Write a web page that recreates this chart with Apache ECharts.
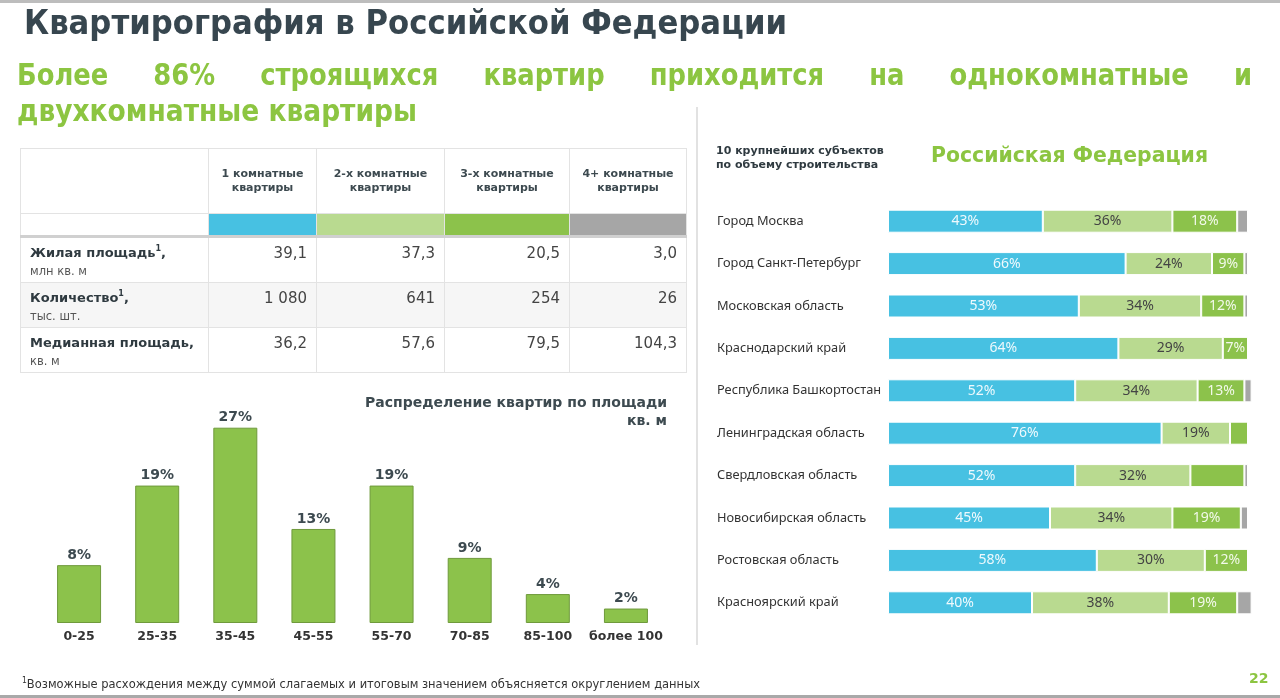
<!DOCTYPE html>
<html><head><meta charset="utf-8">
<script src="https://cdn.jsdelivr.net/npm/echarts@6/dist/echarts.min.js"></script>
<style>
html,body{margin:0;padding:0;width:1280px;height:698px;overflow:hidden;background:#fff;font-family:'DejaVu Sans',sans-serif;}
#chart{position:absolute;left:0;top:0;width:1280px;height:698px;}
.abs{position:absolute;white-space:nowrap;}
.fit{display:inline-block;transform-origin:0 0;}
#topline{position:absolute;left:0;top:0;width:1280px;height:3px;background:#bdbdbd;}
#botline{position:absolute;left:0;top:695px;width:1280px;height:3px;background:#a9a9a9;}
#vsep{position:absolute;left:696px;top:107px;width:2px;height:538px;background:#e2e2e2;}
#tbl{position:absolute;left:20px;top:148px;width:666px;border-collapse:collapse;table-layout:fixed;}
#tbl td{border:1px solid #e3e3e3;padding:0;}
#tbl .hd{font-weight:bold;font-size:11px;color:#3d4a50;text-align:center;vertical-align:middle;line-height:14px;height:64px;}
#tbl .strip td{height:21px;border-bottom:3px solid #d0d0d0;}
#tbl .lab{vertical-align:top;padding:5px 0 0 9px;height:39px;color:#2f3a40;line-height:17px;}
#tbl .lab b{font-size:13px;}
#tbl .lab sup{font-size:8px;line-height:0;vertical-align:6px;}
#tbl .lab span{font-size:11.5px;color:#555;}
#tbl .val{vertical-align:top;text-align:right;padding:6px 9px 0 0;font-size:15px;color:#444;}
</style></head>
<body>
<div id="chart"></div>
<div id="topline"></div>
<div id="botline"></div>
<div id="vsep"></div>
<div class="abs" style="left:24px;top:2px;"><span class="fit" data-w="763" style="font-size:34px;font-weight:bold;color:#37464f;">Квартирография в Российской Федерации</span></div>
<div class="abs" style="left:17px;top:57px;width:1235px;"><div id="sub1" style="font-size:30px;font-weight:bold;color:#8cc541;text-align:justify;text-align-last:justify;transform-origin:0 0;">Более 86% строящихся квартир приходится на однокомнатные и</div></div>
<div class="abs" style="left:17px;top:93px;"><span class="fit" data-w="400" style="font-size:30px;font-weight:bold;color:#8cc541;">двухкомнатные квартиры</span></div>
<table id="tbl"></table>
<div class="abs" style="left:330px;top:393px;width:337px;text-align:right;font-size:14px;font-weight:bold;color:#3d4a50;line-height:18px;">Распределение квартир по площади<br>кв. м</div>
<div class="abs" style="left:716px;top:144px;font-size:11px;font-weight:bold;color:#2f3a40;line-height:14px;">10 крупнейших субъектов<br>по объему строительства</div>
<div class="abs" style="left:931px;top:142px;"><span class="fit" data-w="277" style="font-size:22px;font-weight:bold;color:#8cc541;">Российская Федерация</span></div>
<div class="abs" style="left:22px;top:673px;"><span class="fit" data-w="678" style="font-size:12px;color:#333;"><sup style="font-size:8px;">1</sup>Возможные расхождения между суммой слагаемых и итоговым значением объясняется округлением данных</span></div>
<div class="abs" style="left:1249px;top:670px;font-size:14px;font-weight:bold;color:#8cc541;">22</div>
<script>
// ---- table data ----
const tableCols = ['1 комнатные<br>квартиры', '2-х комнатные<br>квартиры', '3-х комнатные<br>квартиры', '4+ комнатные<br>квартиры'];
const roomColors = ['#47c1e2', '#b9da90', '#8cc24b', '#a6a6a6'];
const rowLabels = ['Жилая площадь<sup>1</sup>,', 'Количество<sup>1</sup>,', 'Медианная площадь,'];
const rowUnits = ['млн кв. м', 'тыс. шт.', 'кв. м'];
const livingArea = ['39,1', '37,3', '20,5', '3,0'];
const flatCount = ['1 080', '641', '254', '26'];
const medianArea = ['36,2', '57,6', '79,5', '104,3'];

// ---- histogram data ----
const histCats = ['0-25', '25-35', '35-45', '45-55', '55-70', '70-85', '85-100', 'более 100'];
const histVals = [8, 19, 27, 13, 19, 9, 4, 2];

// ---- stacked bars data ----
const regions = ['Город Москва', 'Город Санкт-Петербург', 'Московская область', 'Краснодарский край', 'Республика Башкортостан', 'Ленинградская область', 'Свердловская область', 'Новосибирская область', 'Ростовская область', 'Красноярский край'];
const share1 = [43, 66, 53, 64, 52, 76, 52, 45, 58, 40];
const share2 = [36, 24, 34, 29, 34, 19, 32, 34, 30, 38];
const share3 = [18, 9, 12, 7, 13, 5, 15, 19, 12, 19];
const share4 = [3, 1, 1, 0, 2, 0, 1, 2, 0, 4];
const unlabeled3 = ['Ленинградская область', 'Свердловская область'];

// build table
(function () {
  const t = document.getElementById('tbl');
  const widths = [188, 108, 128, 125, 117];
  let h = '<colgroup>' + widths.map(w => '<col style="width:' + w + 'px">').join('') + '</colgroup>';
  h += '<tr><td class="hd"></td>' + tableCols.map(c => '<td class="hd">' + c + '</td>').join('') + '</tr>';
  h += '<tr class="strip"><td></td>' + roomColors.map(c => '<td style="background:' + c + '"></td>').join('') + '</tr>';
  const rows = [livingArea, flatCount, medianArea];
  rows.forEach((r, i) => {
    const bg = i === 1 ? 'background:#f6f6f6;' : '';
    h += '<tr style="' + bg + '"><td class="lab"><b>' + rowLabels[i] + '</b><br><span>' + rowUnits[i] + '</span></td>' +
      r.map(v => '<td class="val">' + v + '</td>').join('') + '</tr>';
  });
  t.innerHTML = h;
})();

// fit text widths
document.querySelectorAll('.fit').forEach(el => {
  const w = +el.dataset.w;
  const cur = el.getBoundingClientRect().width;
  el.style.transform = 'scaleX(' + (w / cur) + ')';
});
(function () {
  const s = document.getElementById('sub1');
  s.style.width = (1235 / 0.86) + 'px';
  s.style.transform = 'scaleX(0.86)';
})();

const chart = echarts.init(document.getElementById('chart'), null, { renderer: 'canvas' });
const FONT = 'DejaVu Sans';
function seg(vals, color, labelColor, idx) {
  return {
    type: 'bar', xAxisIndex: 1, yAxisIndex: 1, stack: 'rf', barWidth: 23,
    data: vals.map((v, i) => ({
      value: v,
      label: { show: idx < 3 && !(idx === 2 && unlabeled3.includes(regions[i])) && v > 0 }
    })),
    itemStyle: { color: color, borderColor: '#fff', borderWidth: 1 },
    label: { position: 'inside', formatter: '{c}%', color: labelColor, fontSize: 14, fontFamily: 'Noto Sans' },
    emphasis: { disabled: true }
  };
}
chart.setOption({
  animation: false,
  grid: [
    { left: 40, right: 615, top: 406, bottom: 75 },
    { left: 888, right: 28.4, top: 200, bottom: 74 }
  ],
  xAxis: [
    { gridIndex: 0, type: 'category', data: histCats, axisLine: { show: false }, axisTick: { show: false },
      axisLabel: { interval: 0, fontFamily: FONT, fontWeight: 'bold', fontSize: 12.5, color: '#333', margin: 7 } },
    { gridIndex: 1, type: 'value', min: 0, max: 101, show: false }
  ],
  yAxis: [
    { gridIndex: 0, type: 'value', min: 0, max: 30, show: false },
    { gridIndex: 1, type: 'category', data: regions, inverse: true, axisLine: { show: false }, axisTick: { show: false },
      axisLabel: { interval: 0, align: 'left', margin: 171, fontFamily: 'Noto Sans', fontSize: 12.8, color: '#333' } }
  ],
  series: [
    { type: 'bar', xAxisIndex: 0, yAxisIndex: 0, data: histVals, barWidth: 44,
      itemStyle: { color: '#8cc24b', borderColor: '#6f9a3c', borderWidth: 1 },
      label: { show: true, position: 'top', formatter: '{c}%', fontFamily: FONT, fontWeight: 'bold', fontSize: 14, color: '#3d4a50', distance: 3 },
      emphasis: { disabled: true } },
    seg(share1, '#47c1e2', '#eef9fd', 0),
    seg(share2, '#b9da90', '#444', 1),
    seg(share3, '#8cc24b', '#f2f9ea', 2),
    seg(share4, '#a6a6a6', '#fff', 3)
  ]
});
</script>
</body></html>
